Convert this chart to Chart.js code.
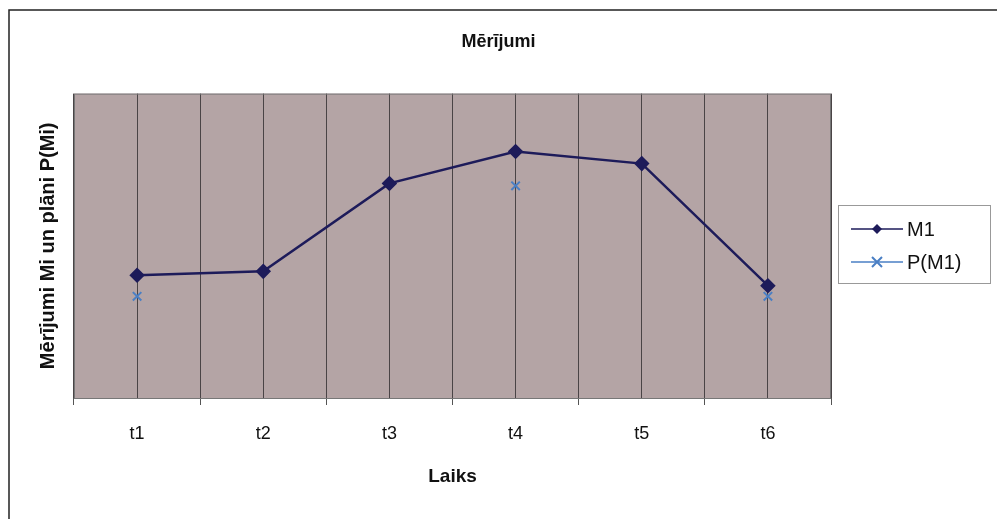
<!DOCTYPE html>
<html>
<head>
<meta charset="utf-8">
<script src="https://cdn.jsdelivr.net/npm/chart.js@4/dist/chart.umd.min.js"></script>
<style>
  html, body { margin: 0; padding: 0; background: #fff; }
  #wrap { position: relative; width: 997px; height: 519px; }
</style>
</head>
<body>
<div id="wrap"><canvas id="chart" width="997" height="519"></canvas></div>
<script>
// dati
const laiki = ['t1', 't2', 't3', 't4', 't5', 't6'];
const m1 = [40.3, 41.6, 70.5, 81.0, 77.0, 36.9];
const pM1 = [33.4, null, null, 69.7, null, 33.4];

const chartTitle = 'Mērījumi';
const yTitle = 'Mērījumi Mi un plāni P(Mi)';
const xTitle = 'Laiks';

const FONT = '"Liberation Sans", Arial, sans-serif';
const plotBg = '#b4a4a5';
const gridCol = '#4a4446';

// fons un rāmis ap diagrammu
const frame = {
  id: 'frame',
  beforeDraw(chart) {
    const { ctx, chartArea: a } = chart;
    ctx.save();
    ctx.fillStyle = plotBg;
    ctx.fillRect(a.left, a.top, a.right - a.left, a.bottom - a.top);
    ctx.strokeStyle = '#222';
    ctx.lineWidth = 1.5;
    ctx.beginPath();
    ctx.moveTo(9, 519);
    ctx.lineTo(9, 10);
    ctx.lineTo(997, 10);
    ctx.stroke();
    ctx.restore();
  },
  afterDatasetsDraw(chart) {
    const { ctx, chartArea: a } = chart;
    ctx.save();
    ctx.strokeStyle = '#777';
    ctx.lineWidth = 1;
    ctx.strokeRect(a.left + 0.5, a.top + 0.5, a.right - a.left - 1, a.bottom - a.top);
    ctx.restore();
  }
};

// leģenda ar rāmi (kā Excel)
const boxLegend = {
  id: 'boxLegend',
  afterDraw(chart) {
    const { ctx } = chart;
    const x = 838, y = 205, w = 152, h = 78;
    ctx.save();
    ctx.fillStyle = '#fff';
    ctx.fillRect(x, y, w, h);
    ctx.strokeStyle = '#999';
    ctx.lineWidth = 1;
    ctx.strokeRect(x + 0.5, y + 0.5, w, h);
    chart.data.datasets.forEach((ds, i) => {
      const cy = y + 24 + i * 33;
      ctx.strokeStyle = ds.borderColor;
      ctx.lineWidth = 1.5;
      ctx.beginPath();
      ctx.moveTo(851, cy);
      ctx.lineTo(903, cy);
      ctx.stroke();
      const mx = 877;
      if (ds.pointStyle === 'rectRot') {
        ctx.fillStyle = ds.pointBackgroundColor;
        ctx.beginPath();
        ctx.moveTo(mx, cy - 5); ctx.lineTo(mx + 5, cy); ctx.lineTo(mx, cy + 5); ctx.lineTo(mx - 5, cy);
        ctx.closePath();
        ctx.fill();
      } else {
        ctx.strokeStyle = ds.pointBorderColor;
        ctx.lineWidth = 2;
        ctx.beginPath();
        ctx.moveTo(mx - 5, cy - 5); ctx.lineTo(mx + 5, cy + 5);
        ctx.moveTo(mx + 5, cy - 5); ctx.lineTo(mx - 5, cy + 5);
        ctx.stroke();
      }
      ctx.fillStyle = '#111';
      ctx.font = '20px ' + FONT;
      ctx.textBaseline = 'middle';
      ctx.fillText(ds.label, 907, cy + 1);
    });
    ctx.restore();
  }
};

new Chart(document.getElementById('chart'), {
  type: 'line',
  data: {
    labels: laiki,
    datasets: [
      {
        label: 'M1',
        data: m1,
        borderColor: '#1d1b5a',
        borderWidth: 2.5,
        pointStyle: 'rectRot',
        pointRadius: 6,
        pointBackgroundColor: '#1d1b5a',
        pointBorderColor: '#1d1b5a',
        tension: 0
      },
      {
        label: 'P(M1)',
        data: pM1,
        borderColor: '#4a7fc4',
        borderWidth: 1.5,
        pointStyle: 'cross',
        rotation: 45,
        pointRadius: 6,
        pointBorderWidth: 2,
        pointBorderColor: '#4a7fc4',
        pointBackgroundColor: '#4a7fc4',
        spanGaps: false
      }
    ]
  },
  options: {
    responsive: false,
    animation: false,
    layout: { padding: { left: 30, top: 10, right: 30, bottom: 20 } },
    plugins: {
      legend: { display: false },
      tooltip: { enabled: false },
      title: {
        display: true,
        text: chartTitle,
        color: '#111',
        font: { family: FONT, size: 18, weight: 'bold' },
        padding: { top: 21, bottom: 41 }
      }
    },
    scales: {
      x: {
        type: 'category',
        offset: true,
        grid: { offset: true, color: gridCol, lineWidth: 1, drawTicks: true, tickLength: 7, tickColor: '#555' },
        border: { display: false },
        ticks: { color: '#111', font: { family: FONT, size: 18 }, padding: 18 },
        title: {
          display: true,
          text: xTitle,
          color: '#111',
          font: { family: FONT, size: 19, weight: 'bold' },
          padding: { top: 0, bottom: 11 }
        },
        afterFit(s) { s.height = 101; }
      },
      x2: {
        type: 'category',
        position: 'bottom',
        offset: true,
        grid: { offset: false, color: gridCol, lineWidth: 1, drawTicks: false },
        border: { display: false },
        ticks: { display: false },
        afterFit(s) { s.height = 0; }
      },
      y: {
        min: 0,
        max: 100,
        grid: { display: false, drawTicks: false },
        border: { display: false },
        ticks: { display: false },
        title: {
          display: true,
          text: yTitle,
          color: '#111',
          font: { family: FONT, size: 20, weight: 'bold' },
          padding: { top: 6, bottom: 0 }
        },
        afterFit(s) { s.width = 44; }
      },
      // tukša ass labajā pusē – vieta leģendai
      yR: {
        position: 'right',
        min: 0,
        max: 100,
        grid: { display: false, drawTicks: false },
        border: { display: false },
        ticks: { display: false },
        afterFit(s) { s.width = 136; }
      }
    }
  },
  plugins: [frame, boxLegend]
});
</script>
</body>
</html>
